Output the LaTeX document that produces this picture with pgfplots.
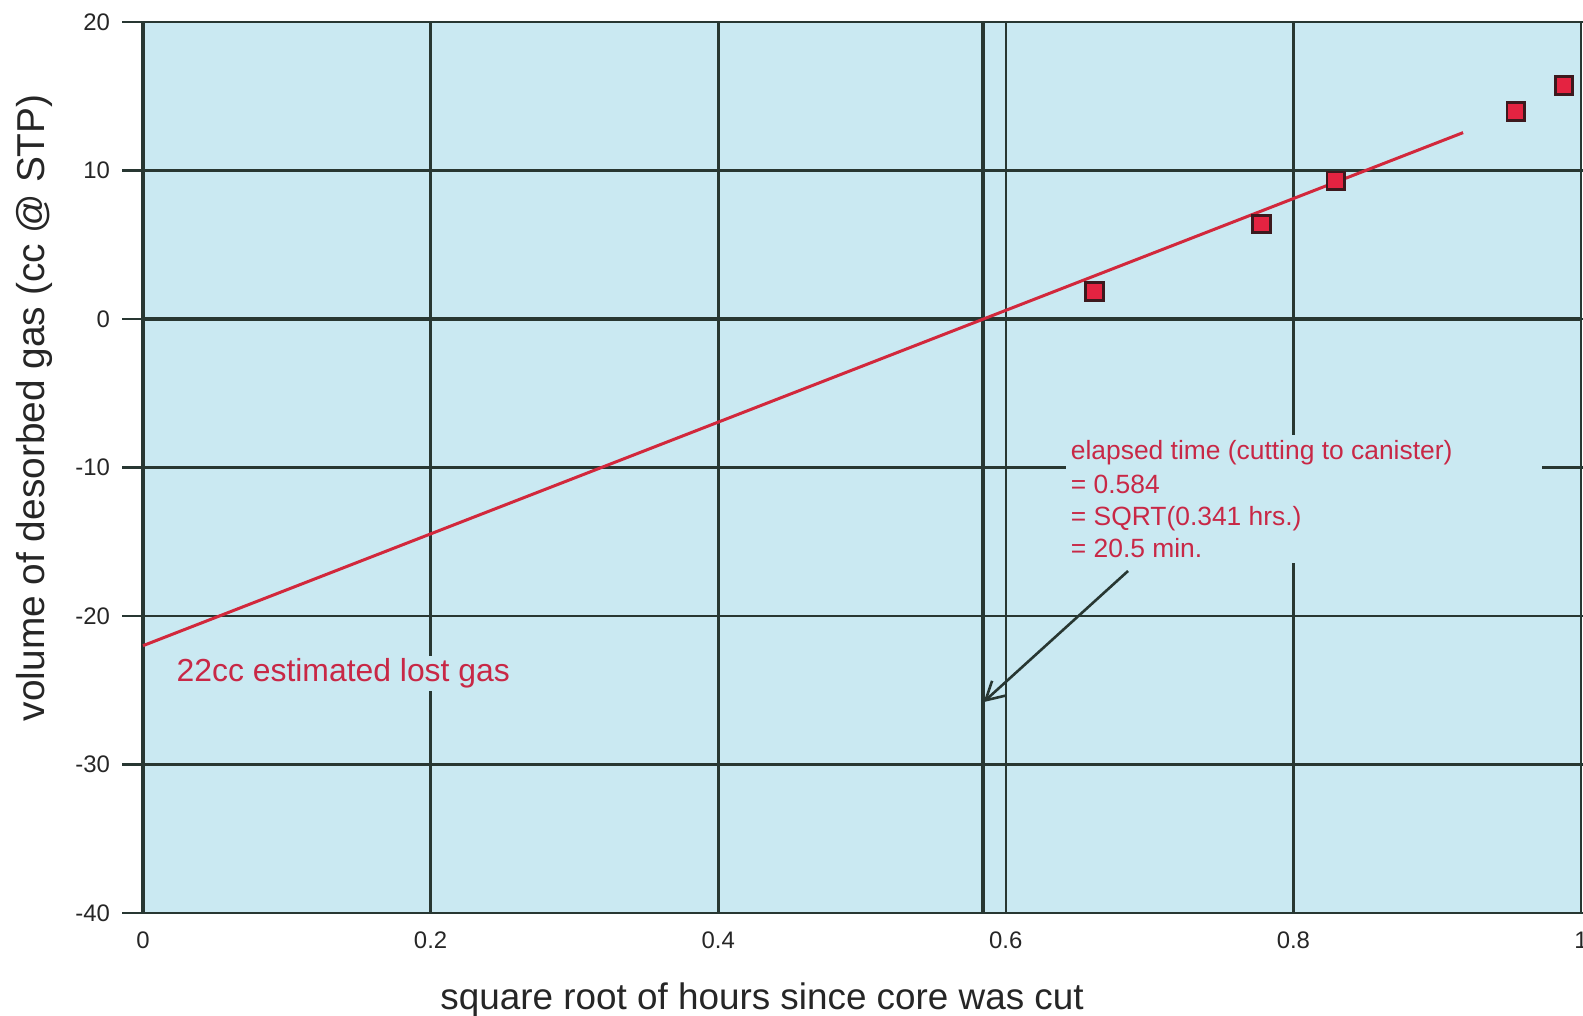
\documentclass[border=0pt]{standalone}
\usepackage{fontspec}
\setmainfont{Liberation Sans}
\usepackage{pgfplots}
\pgfplotsset{compat=1.18}
\usetikzlibrary{arrows.meta}
\definecolor{bg}{RGB}{202,233,242}
\definecolor{gridc}{RGB}{40,55,50}
\definecolor{fitred}{RGB}{210,40,60}
\definecolor{txtred}{RGB}{200,40,70}
\definecolor{mkred}{RGB}{228,35,65}
\definecolor{mkedge}{RGB}{60,25,30}
\begin{document}
\begin{tikzpicture}
\begin{axis}[
  name=ax,
  scale only axis,
  width=719bp, height=445.5bp,
  xmin=0, xmax=1, ymin=-40, ymax=20,
  axis background/.style={fill=bg},
  xtick={0,0.2,0.4,0.6,0.8,1},
  ytick={-40,-30,-20,-10,0,10,20},
  grid=major,
  grid style={draw=gridc, line width=1.3bp},
  axis line style={draw=gridc, line width=1.3bp},
  tick align=outside,
  major tick length=10.5bp,
  xtick style={draw=none},
  ytick style={draw=gridc, line width=1.3bp},
  /pgf/number format/assume math mode=true,
  ticklabel style={font=\fontsize{12}{14}\selectfont, text=black!85},
  yticklabel style={xshift=-2.5bp},
  xticklabel style={yshift=4.5bp},
  xlabel={square root of hours since core was cut},
  ylabel={volume of desorbed gas (cc @ STP)},
  xlabel style={at={(axis description cs:0.4305,-0.108)}, anchor=base, font=\fontsize{18.5}{22}\selectfont, text=black!85},
  ylabel style={at={(axis description cs:-0.0688,0.567)}, anchor=base, font=\fontsize{19.5}{22}\selectfont, text=black!85},
  clip=false,
]
% emphasised lines
\draw[gridc, line width=2.2bp] (axis cs:0,0) -- (axis cs:1,0);
\draw[gridc, line width=2.2bp] (axis cs:0.584,-40) -- (axis cs:0.584,20);
\draw[gridc, line width=2.2bp] (axis cs:0,-40) -- (axis cs:0,20);

% regression line
\addplot[fitred, line width=1.5bp] coordinates {(0,-22) (0.918,12.55)};

% data points
\addplot[only marks, mark=square*, mark size=4.4bp,
  mark options={fill=mkred, draw=mkedge, line width=1.4bp}] coordinates {
  (0.6616,1.84) (0.7778,6.40) (0.8295,9.31) (0.9546,13.96) (0.9882,15.71)
};

% annotation box hiding grid
\fill[bg] (axis cs:0.642,-7.81) rectangle (axis cs:0.973,-16.43);
\node[anchor=base west, inner sep=0pt, text=txtred, font=\fontsize{13.25}{16}\selectfont] at (axis cs:0.645,-9.49) {elapsed time (cutting to canister)};
\node[anchor=base west, inner sep=0pt, text=txtred, font=\fontsize{13.25}{16}\selectfont] at (axis cs:0.645,-11.72) {= 0.584};
\node[anchor=base west, inner sep=0pt, text=txtred, font=\fontsize{13.25}{16}\selectfont] at (axis cs:0.645,-13.94) {= SQRT(0.341 hrs.)};
\node[anchor=base west, inner sep=0pt, text=txtred, font=\fontsize{13.25}{16}\selectfont] at (axis cs:0.645,-16.09) {= 20.5 min.};

\node[anchor=base west, inner sep=1.2bp, fill=bg, text=txtred, font=\fontsize{16}{19}\selectfont] at (axis cs:0.0215,-24.44) {22cc estimated lost gas};

% arrow
\draw[gridc, line width=1.3bp, -{Straight Barb[length=9bp,width=10bp]}] (axis cs:0.685,-16.97) -- (axis cs:0.5845,-25.8);
\end{axis}
\pgfresetboundingbox
\path[use as bounding box] ([shift={(-71.5bp,-51.5bp)}]ax.south west) rectangle ([shift={(1bp,11bp)}]ax.north east);
\end{tikzpicture}
\end{document}
